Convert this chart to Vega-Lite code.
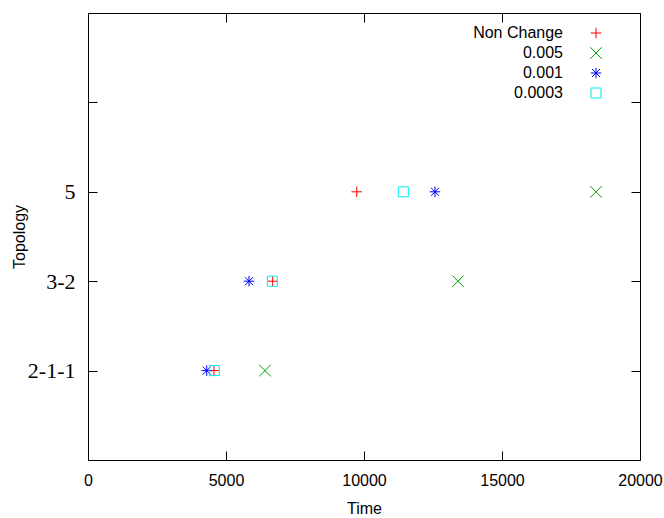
{
  "$schema": "https://vega.github.io/schema/vega-lite/v6.json",
  "width": 552,
  "height": 447,
  "autosize": "none",
  "padding": {"left": 88, "top": 13, "right": 24, "bottom": 58},
  "background": "white",
  "config": {
    "view": {"stroke": "black", "strokeWidth": 1},
    "axis": {
      "grid": false,
      "domainColor": "black",
      "tickColor": "black",
      "labelColor": "black",
      "titleColor": "black",
      "titleFontWeight": "normal",
      "labelFont": "Liberation Sans",
      "titleFont": "Liberation Sans",
      "labelFontSize": 16,
      "titleFontSize": 16
    },
    "legend": {
      "labelFont": "Liberation Sans",
      "labelFontSize": 16,
      "labelColor": "black"
    }
  },
  "data": {
    "values": [
      {"series": "Non Change", "time": 4565, "topo": 1},
      {"series": "Non Change", "time": 6690, "topo": 2},
      {"series": "Non Change", "time": 9736, "topo": 3},
      {"series": "0.005", "time": 6413, "topo": 1},
      {"series": "0.005", "time": 13406, "topo": 2},
      {"series": "0.005", "time": 18406, "topo": 3},
      {"series": "0.001", "time": 4301, "topo": 1},
      {"series": "0.001", "time": 5833, "topo": 2},
      {"series": "0.001", "time": 12572, "topo": 3},
      {"series": "0.0003", "time": 4576, "topo": 1},
      {"series": "0.0003", "time": 6678, "topo": 2},
      {"series": "0.0003", "time": 11424, "topo": 3}
    ]
  },
  "layer": [
    {
      "mark": {"type": "point", "opacity": 0},
      "encoding": {
        "x": {
          "field": "time", "type": "quantitative",
          "scale": {"domain": [0, 20000], "nice": false},
          "axis": {"orient": "top", "labels": false, "title": null, "tickSize": -9, "values": [0, 5000, 10000, 15000, 20000], "domain": false}
        },
        "y": {
          "field": "topo", "type": "quantitative",
          "scale": {"domain": [0, 5], "nice": false},
          "axis": {"orient": "right", "labels": false, "title": null, "tickSize": -9, "values": [1, 2, 3, 4], "domain": false}
        }
      }
    },
    {
      "mark": {"type": "point", "filled": false, "size": 100, "strokeWidth": 1, "opacity": 1},
      "encoding": {
        "x": {
          "field": "time", "type": "quantitative", "title": "Time",
          "scale": {"domain": [0, 20000], "nice": false},
          "axis": {"orient": "bottom", "format": "d", "tickSize": -9, "labelPadding": 21, "titlePadding": 12, "values": [0, 5000, 10000, 15000, 20000], "domain": false, "labelFlush": false}
        },
        "y": {
          "field": "topo", "type": "quantitative", "title": "Topology",
          "scale": {"domain": [0, 5], "nice": false},
          "axis": {
            "orient": "left", "tickSize": -9, "labelPadding": 22, "titlePadding": 0,
            "values": [1, 2, 3, 4], "domain": false, "labelFlush": false,
            "labelFont": "Liberation Serif", "labelFontSize": 22,
            "labelExpr": "datum.value == 1 ? '2-1-1' : datum.value == 2 ? '3-2' : datum.value == 3 ? '5' : ''"
          }
        },
        "color": {
          "field": "series", "type": "nominal",
          "scale": {"domain": ["Non Change", "0.005", "0.001", "0.0003"], "range": ["#ff0000", "#00a000", "#0000ff", "#00eeee"]},
          "legend": {"title": null, "orient": "none", "legendX": 500, "legendY": 12, "labelAlign": "right", "labelOffset": -41, "rowPadding": 4, "symbolStrokeWidth": 1}
        },
        "shape": {
          "field": "series", "type": "nominal",
          "scale": {"domain": ["Non Change", "0.005", "0.001", "0.0003"], "range": ["M-1.05,0L1.05,0M0,-1.05L0,1.05", "M-1.15,-1.15L1.15,1.15M-1.15,1.15L1.15,-1.15", "M-1.05,0L1.05,0M0,-1.05L0,1.05M-0.8,-0.8L0.8,0.8M-0.8,0.8L0.8,-0.8", "square"]},
          "legend": {"title": null}
        }
      }
    }
  ],
  "resolve": {"axis": {"x": "independent", "y": "independent"}}
}
